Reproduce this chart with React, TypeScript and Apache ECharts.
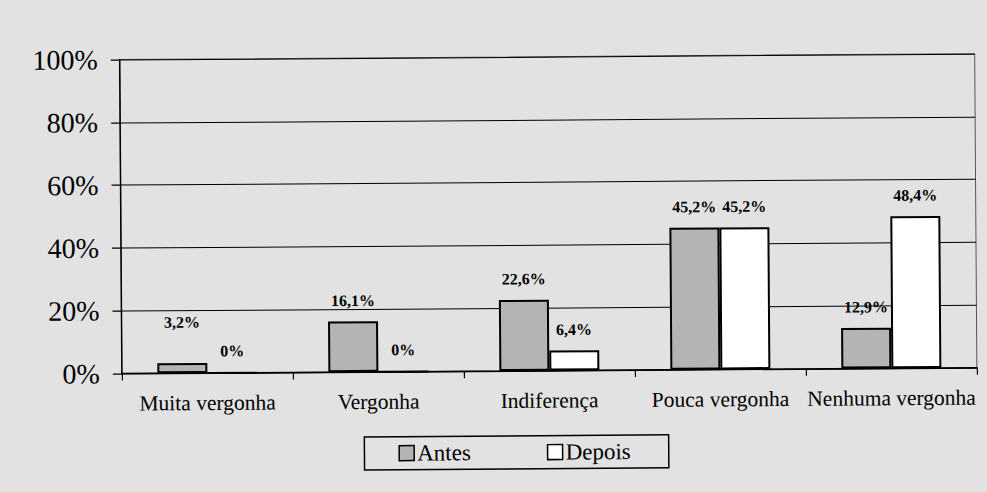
import React, { useEffect, useRef } from "react";
import * as echarts from "echarts";

const categories = ["Muita vergonha", "Vergonha", "Indiferença", "Pouca vergonha", "Nenhuma vergonha"];
const antesValues = [3.2, 16.1, 22.6, 45.2, 12.9];
const depoisValues = [0, 0, 6.4, 45.2, 48.4];
const seriesNames = ["Antes", "Depois"];
const yMin = 0;
const yMax = 100;
const yStep = 20;

const FONT = '"Liberation Serif", "Times New Roman", serif';
const BG = "#e2e2e2";

const fmt = (v: number) => (v === 0 ? "0%" : v.toFixed(1).replace(".", ",") + "%");

export default function App() {
  const ref = useRef<HTMLDivElement>(null);
  useEffect(() => {
    if (!ref.current) return;
    const chart = echarts.init(ref.current, null, { renderer: "svg" });
    const labelCfg = {
      show: true,
      position: "top",
      distance: 13,
      fontFamily: FONT,
      fontWeight: "bold",
      fontSize: 16,
      color: "#000",
      formatter: (p: any) => fmt(p.value),
    };
    chart.setOption({
      animation: false,
      backgroundColor: "transparent",
      grid: {
        left: 121,
        right: 11,
        top: 57,
        bottom: 121,
        containLabel: false,
        show: true,
        borderColor: "#555",
        borderWidth: 1,
        backgroundColor: "transparent",
      },
      legend: {
        data: seriesNames,
        left: 363,
        top: 436,
        orient: "horizontal",
        padding: [5, 38, 5, 34],
        itemGap: 76,
        itemWidth: 15,
        itemHeight: 15,
        icon: "rect",
        borderColor: "#000",
        borderWidth: 1.5,
        backgroundColor: "transparent",
        itemStyle: { borderColor: "#000", borderWidth: 1.5 },
        textStyle: { fontFamily: FONT, fontSize: 23, color: "#000", lineHeight: 23, padding: [0, 0, 0, -2] },
      },
      xAxis: {
        type: "category",
        data: categories,
        axisLine: { show: true, lineStyle: { color: "#000", width: 1.5 } },
        axisTick: { show: true, interval: 0, length: 7, alignWithLabel: false, lineStyle: { color: "#000", width: 1.2 } },
        axisLabel: { interval: 0, margin: 19, fontFamily: FONT, fontSize: 21.5, color: "#000" },
        splitLine: { show: false },
      },
      yAxis: {
        type: "value",
        min: yMin,
        max: yMax,
        interval: yStep,
        axisLine: { show: true, lineStyle: { color: "#000", width: 1.5 } },
        axisTick: { show: true, length: 9, lineStyle: { color: "#000", width: 1.2 } },
        axisLabel: { formatter: "{value}%", margin: 22, fontFamily: FONT, fontSize: 28, color: "#000" },
        splitLine: { show: true, lineStyle: { color: "#000", width: 1 } },
      },
      series: [
        {
          name: seriesNames[0],
          type: "bar",
          barWidth: 50,
          barGap: "0%",
          data: antesValues.map((v, i) => (i === 0 ? { value: v, label: { offset: [0, -20] } } : v)),
          itemStyle: { color: "#b4b4b4", borderColor: "#000", borderWidth: 2 },
          label: labelCfg,
        },
        {
          name: seriesNames[1],
          type: "bar",
          barWidth: 50,
          barGap: "0%",
          data: depoisValues,
          itemStyle: { color: "#ffffff", borderColor: "#000", borderWidth: 2 },
          label: labelCfg,
        },
      ],
    });
    return () => chart.dispose();
  }, []);
  return (
    <div
      style={{
        position: "fixed",
        left: 0,
        top: 0,
        width: 987,
        height: 492,
        background: BG,
        overflow: "hidden",
      }}
    >
      <div
        ref={ref}
        style={{
          position: "absolute",
          left: 0,
          top: 0,
          width: 987,
          height: 492,
          transform: "rotate(-0.4deg)",
          transformOrigin: "50% 50%",
        }}
      />
    </div>
  );
}
